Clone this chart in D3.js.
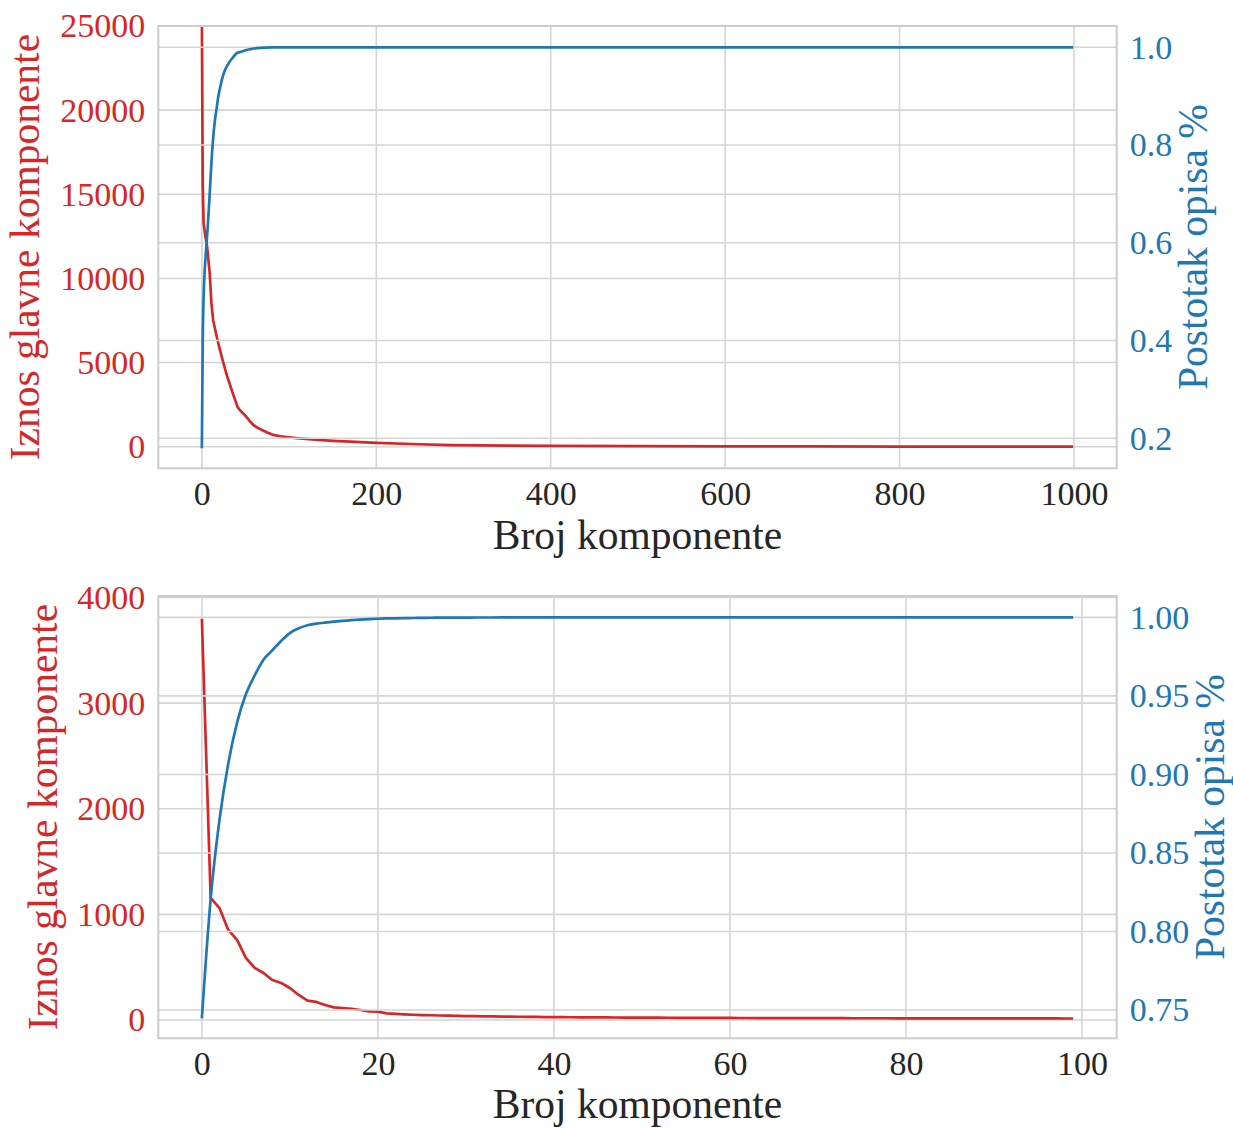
<!DOCTYPE html>
<html>
<head>
<meta charset="utf-8">
<script src="https://cdn.jsdelivr.net/npm/d3@7"></script>
<style>
  html, body { margin: 0; padding: 0; background: #ffffff; }
  svg text { font-family: "Liberation Serif", "Times New Roman", serif; }
</style>
</head>
<body>
<svg id="chart" width="1233" height="1128"></svg>
<script>
// ---- Panel 1: first 1000 principal components (sampled points along the curves) ----
const compAllX = [0, 1, 2, 4, 6, 9, 11, 13, 17, 20, 23, 28, 34, 38, 41, 44, 48, 51, 55, 59, 64, 69, 75, 82, 90, 100, 112, 130, 150, 170, 200, 240, 285, 350, 400, 500, 600, 700, 800, 900, 999];
const eigenAll = [25600, 15500, 13300, 12500, 11900, 10300, 8500, 7500, 6550, 5900, 5300, 4350, 3400, 2800, 2350, 2150, 1950, 1780, 1520, 1290, 1120, 990, 840, 700, 620, 560, 500, 420, 350, 300, 230, 160, 100, 65, 45, 30, 20, 14, 10, 7, 5];

const ratioAllX = [0, 1, 2, 3, 5, 7, 9, 11, 13, 15, 17, 19, 21, 23, 26, 29, 32, 35, 40, 45, 51, 58, 67, 80, 100, 130, 200, 400, 700, 999];
const ratioAll = [0.1795, 0.40, 0.49, 0.535, 0.59, 0.64, 0.70, 0.765, 0.815, 0.851, 0.876, 0.901, 0.918, 0.934, 0.951, 0.962, 0.971, 0.978, 0.988, 0.991, 0.9945, 0.997, 0.999, 1.0, 1.0, 1.0, 1.0, 1.0, 1.0, 1.0];

// ---- Panel 2: first 100 principal components ----
const eigen100 = [
  3800, 1156, 1060, 853, 758, 588, 493, 445, 379, 351,
  303, 237, 183, 171, 142, 120, 114, 107, 95, 82,
  79, 63, 58, 54, 50, 47, 45, 43, 41, 39,
  37.5, 36, 35, 34, 33, 32, 31, 30, 29, 28,
  27.5, 27, 26.5, 26, 25.5, 25, 24.5, 24, 23.5, 23,
  22.6, 22.2, 21.8, 21.5, 21.2, 20.9, 20.6, 20.3, 20, 19.8,
  19.5, 19.3, 19.1, 18.9, 18.7, 18.5, 18.3, 18.1, 17.9, 17.7,
  17.5, 17.3, 17.2, 17.1, 17, 16.9, 16.8, 16.7, 16.6, 16.5,
  16.4, 16.3, 16.2, 16.1, 16, 15.9, 15.8, 15.7, 15.6, 15.5,
  15.4, 15.3, 15.2, 15.1, 15, 14.9, 14.8, 14.7, 14.6, 14.5
];
const ratio100 = [
  0.7447, 0.821, 0.871, 0.907, 0.933, 0.951, 0.963, 0.973, 0.979, 0.985,
  0.990, 0.993, 0.995, 0.996, 0.9967, 0.9973, 0.9978, 0.9982, 0.9986, 0.9989,
  0.9991, 0.9993, 0.9994, 0.9995, 0.9996, 0.9997, 0.99975, 0.9998, 0.99983, 0.99986,
  0.99988, 0.9999, 0.99991, 0.99992, 0.99993, 0.99994, 0.99995, 0.99995, 0.99996, 0.99996,
  0.99997, 0.99997, 0.99997, 0.99998, 0.99998, 0.99998, 0.99998, 0.99998, 0.99999, 0.99999,
  0.99999, 0.99999, 0.99999, 0.99999, 0.99999, 0.99999, 0.99999, 0.99999, 0.99999, 0.99999,
  1.0, 1.0, 1.0, 1.0, 1.0, 1.0, 1.0, 1.0, 1.0, 1.0,
  1.0, 1.0, 1.0, 1.0, 1.0, 1.0, 1.0, 1.0, 1.0, 1.0,
  1.0, 1.0, 1.0, 1.0, 1.0, 1.0, 1.0, 1.0, 1.0, 1.0,
  1.0, 1.0, 1.0, 1.0, 1.0, 1.0, 1.0, 1.0, 1.0, 1.0
];
const compIdx100 = d3.range(eigen100.length);

// ---- Tick labels ----
const xTicksAll = [0, 200, 400, 600, 800, 1000];
const leftTicksAll = [0, 5000, 10000, 15000, 20000, 25000];
const rightTicksAll = [0.2, 0.4, 0.6, 0.8, 1.0];
const xTicks100 = [0, 20, 40, 60, 80, 100];
const leftTicks100 = [0, 1000, 2000, 3000, 4000];
const rightTicks100 = [0.75, 0.80, 0.85, 0.90, 0.95, 1.00];

const xLabel = "Broj komponente";
const leftLabel = "Iznos glavne komponente";
const rightLabel = "Postotak opisa %";

const RED = "#d62728", BLUE = "#1f77b4", GRID = "#d5d5d5", FRAME = "#cccccc", INK = "#262626";

const svg = d3.select("#chart");
const X0 = 158.3, X1 = 1116.7;

function panel(cfg, id) {
  const g = svg.append("g");
  const x = d3.scaleLinear().domain(cfg.xDomain).range([X0, X1]);
  const yL = d3.scaleLinear().domain(cfg.leftDomain).range([cfg.y1, cfg.y0]);
  const yR = d3.scaleLinear().domain(cfg.rightDomain).range([cfg.y1, cfg.y0]);

  g.append("clipPath").attr("id", "clip" + id)
    .append("rect").attr("x", X0).attr("y", cfg.y0).attr("width", X1 - X0).attr("height", cfg.y1 - cfg.y0);

  // vertical grid
  g.append("g").selectAll("line").data(cfg.xTicks).join("line")
    .attr("x1", d => x(d)).attr("x2", d => x(d))
    .attr("y1", cfg.y0).attr("y2", cfg.y1)
    .attr("stroke", GRID).attr("stroke-width", 1.6);
  // left grid
  g.append("g").selectAll("line").data(cfg.leftTicks).join("line")
    .attr("x1", X0).attr("x2", X1)
    .attr("y1", d => yL(d)).attr("y2", d => yL(d))
    .attr("stroke", GRID).attr("stroke-width", 1.6);

  // left-axis series
  g.append("path").datum(cfg.redX.map((c, i) => [c, cfg.red[i]]))
    .attr("clip-path", `url(#clip${id})`)
    .attr("fill", "none").attr("stroke", RED).attr("stroke-width", 2.7)
    .attr("stroke-linejoin", "round")
    .attr("d", d3.line().x(d => x(d[0])).y(d => yL(d[1])));

  // right grid (drawn above the red series)
  g.append("g").selectAll("line").data(cfg.rightTicks).join("line")
    .attr("x1", X0).attr("x2", X1)
    .attr("y1", d => yR(d)).attr("y2", d => yR(d))
    .attr("stroke", GRID).attr("stroke-width", 1.6);

  // right-axis series
  g.append("path").datum(cfg.blueX.map((c, i) => [c, cfg.blue[i]]))
    .attr("clip-path", `url(#clip${id})`)
    .attr("fill", "none").attr("stroke", BLUE).attr("stroke-width", 2.7)
    .attr("stroke-linejoin", "round")
    .attr("d", d3.line().curve(d3.curveMonotoneX).x(d => x(d[0])).y(d => yR(d[1])));

  // frame
  g.append("rect").attr("x", X0).attr("y", cfg.y0)
    .attr("width", X1 - X0).attr("height", cfg.y1 - cfg.y0)
    .attr("fill", "none").attr("stroke", FRAME).attr("stroke-width", 2);

  // axes (ticks hidden, labels only)
  const ax = g.append("g").attr("transform", `translate(0,${cfg.y1})`)
    .call(d3.axisBottom(x).tickValues(cfg.xTicks).tickSize(0).tickPadding(13).tickFormat(d3.format("d")));
  ax.select(".domain").remove();
  ax.selectAll("text").attr("font-size", 34).attr("fill", INK)
    .attr("font-family", "Liberation Serif");

  const al = g.append("g").attr("transform", `translate(${X0},0)`)
    .call(d3.axisLeft(yL).tickValues(cfg.leftTicks).tickSize(0).tickPadding(13).tickFormat(d3.format("d")));
  al.select(".domain").remove();
  al.selectAll("text").attr("font-size", 34).attr("fill", RED)
    .attr("font-family", "Liberation Serif");

  const ar = g.append("g").attr("transform", `translate(${X1},0)`)
    .call(d3.axisRight(yR).tickValues(cfg.rightTicks).tickSize(0).tickPadding(13).tickFormat(d3.format(cfg.rightFmt)));
  ar.select(".domain").remove();
  ar.selectAll("text").attr("font-size", 34).attr("fill", BLUE)
    .attr("font-family", "Liberation Serif");

  // axis titles
  g.append("text").attr("x", (X0 + X1) / 2).attr("y", cfg.xLabelY)
    .attr("text-anchor", "middle").attr("font-size", 41.5).attr("fill", INK).text(xLabel);
  const midY = (cfg.y0 + cfg.y1) / 2;
  g.append("text").attr("transform", `translate(${cfg.leftLabelX},${midY}) rotate(-90)`)
    .attr("text-anchor", "middle").attr("font-size", 41.5).attr("fill", RED).text(leftLabel);
  g.append("text").attr("transform", `translate(${cfg.rightLabelX},${midY}) rotate(-90)`)
    .attr("text-anchor", "middle").attr("font-size", 41.5).attr("fill", BLUE).text(rightLabel);
}

panel({
  y0: 26, y1: 468.3,
  xDomain: [-49.95, 1048.95], leftDomain: [-1283, 25000], rightDomain: [0.1386, 1.0436],
  xTicks: xTicksAll, leftTicks: leftTicksAll, rightTicks: rightTicksAll, rightFmt: ".1f",
  redX: compAllX, red: eigenAll, blueX: ratioAllX, blue: ratioAll,
  xLabelY: 549, leftLabelX: 39, rightLabelX: 1207
}, 1);

panel({
  y0: 596, y1: 1038.3,
  xDomain: [-4.95, 103.95], leftDomain: [-173, 4014], rightDomain: [0.732, 1.0136],
  xTicks: xTicks100, leftTicks: leftTicks100, rightTicks: rightTicks100, rightFmt: ".2f",
  redX: compIdx100, red: eigen100, blueX: compIdx100, blue: ratio100,
  xLabelY: 1118, leftLabelX: 57, rightLabelX: 1224
}, 2);
</script>
</body>
</html>
